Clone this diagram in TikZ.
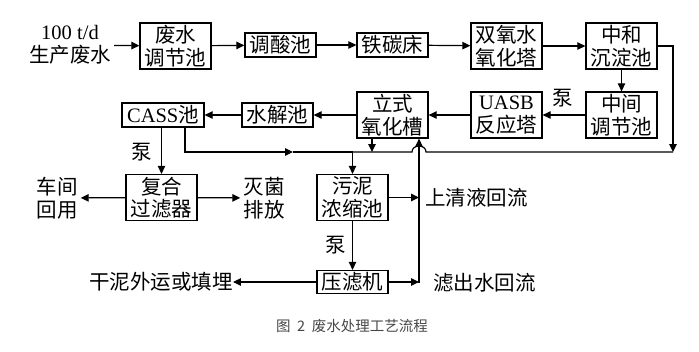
\documentclass[tikz,border=0pt]{standalone}
\usepackage{fontspec}
\usepackage{tikz}
\usetikzlibrary{arrows.meta}
\setmainfont{Liberation Serif}
\newfontfamily\cjk{Noto Sans CJK SC}
\newcommand{\lat}[1]{{\rmfamily #1}}
\newcommand{\diagsize}{\fontsize{20.5}{22.5}\selectfont}
\tikzset{
  unit/.style={draw,line width=1.3pt,inner sep=0pt,minimum width=71pt,minimum height=46pt,align=center,font=\cjk\diagsize},
  unitlow/.style={unit,minimum height=24pt},
  note/.style={align=center,inner sep=3pt,font=\cjk\diagsize},
  pumplab/.style={inner sep=0pt,font=\cjk\diagsize},
  capt/.style={font=\cjk\fontsize{14.5}{16}\selectfont,text=black!72},
  pipe/.style={line width=1.2pt},
  flow/.style={pipe,-{Triangle[length=8pt,width=7.5pt]}},
}

\begin{document}
\begin{tikzpicture}[x=1pt,y=-1pt]
  \useasboundingbox (0,0) rectangle (699,351);
  % first row
  \node[note] (feed) at (70,45) {\lat{100 t/d}\\生产废水};
  \node[unit] (eqtank) at (175.5,46) {废水\\调节池};
  \node[unitlow] (acid) at (280.5,45) {调酸池};
  \node[unitlow] (fecbed) at (392.5,45) {铁碳床};
  \node[unit] (hpox) at (506.5,46) {双氧水\\氧化塔};
  \node[unit] (neutral) at (621.5,46) {中和\\沉淀池};
  % second row
  \node[unit] (midtank) at (621.5,115) {中间\\调节池};
  \node[unit] (uasb) at (506.5,115) {\lat{UASB}\\反应塔};
  \node[unit] (vertox) at (392.5,115) {立式\\氧化槽};
  \node[unitlow] (hydro) at (277.5,115) {水解池};
  \node[unitlow,minimum width=82pt] (cass) at (163,115) {\lat{CASS}池};
  % third row
  \node[unit] (filter) at (161.5,197.5) {复合\\过滤器};
  \node[note] (reuse) at (57,198) {车间\\回用};
  \node[note] (disinf) at (264,198) {灭菌\\排放};
  \node[unit] (thick) at (352.5,197.5) {污泥\\浓缩池};
  \node[note,anchor=west] (superq) at (422,198) {上清液回流};
  % fourth row
  \node[unitlow,minimum height=23pt] (press) at (352.5,282) {压滤机};
  \node[note,inner sep=0pt] (dry) at (161,282) {干泥外运或填埋};
  \node[note,anchor=west] (filtq) at (430,283) {滤出水回流};
  % pump labels
  \node[pumplab] (pumpA) at (563,98) {泵};
  \node[pumplab] (pumpB) at (142,152) {泵};
  \node[pumplab] (pumpC) at (336,245) {泵};
  \node[capt] (caption) at (352,326) {图\hspace{0.45em}2\hspace{0.45em}废水处理工艺流程};
  % sludge line and return line
  \coordinate (sludgeL) at (185,152);
  \coordinate (sludgeM) at (293,152);
  \coordinate (sludgeJ) at (352.5,152);
  \coordinate (vdrop) at (372,152);
  \coordinate (hopL) at (412,152);
  \coordinate (hopR) at (426,152);
  \coordinate (sludgeR) at (673,152);
  \coordinate (retB) at (419,283);
  % main water flow
  \draw[flow] (feed) -- (eqtank);
  \draw[flow] (eqtank) -- (acid);
  \draw[flow] (acid) -- (fecbed);
  \draw[flow] (fecbed) -- (hpox);
  \draw[flow] (hpox) -- (neutral);
  \draw[flow] (neutral) -- (midtank);
  \draw[flow] (midtank) -- (uasb);
  \draw[flow] (uasb) -- (vertox);
  \draw[flow] (vertox) -- (hydro);
  \draw[flow] (hydro) -- (cass);
  \draw[flow] (filter.north |- cass.south) -- (filter.north);
  \draw[flow] (filter) -- (reuse);
  \draw[flow] (filter) -- (disinf);
  % sludge
  \draw[flow] (cass.south -| sludgeL) -- (sludgeL) -- (sludgeM);
  \draw[pipe] (sludgeM) -- (sludgeJ);
  \draw[pipe] (sludgeR) -- (hopR) .. controls (426,144) and (412,144) .. (hopL) -- (sludgeJ);
  \draw[flow] (vertox.south -| vdrop) -- (vdrop);
  \draw[flow] (neutral.east) -| (sludgeR);
  \draw[flow] (sludgeJ) -- (thick.north);
  \draw[flow] (thick) -- (press);
  \draw[flow] (press) -- (dry);
  % returns
  \draw[flow] (thick.east) -- (thick.east -| retB);
  \draw[flow] (press.east) -- (press.east -| retB);
  \draw[flow] (retB) -- (retB |- vertox.south);
\end{tikzpicture}
\end{document}
